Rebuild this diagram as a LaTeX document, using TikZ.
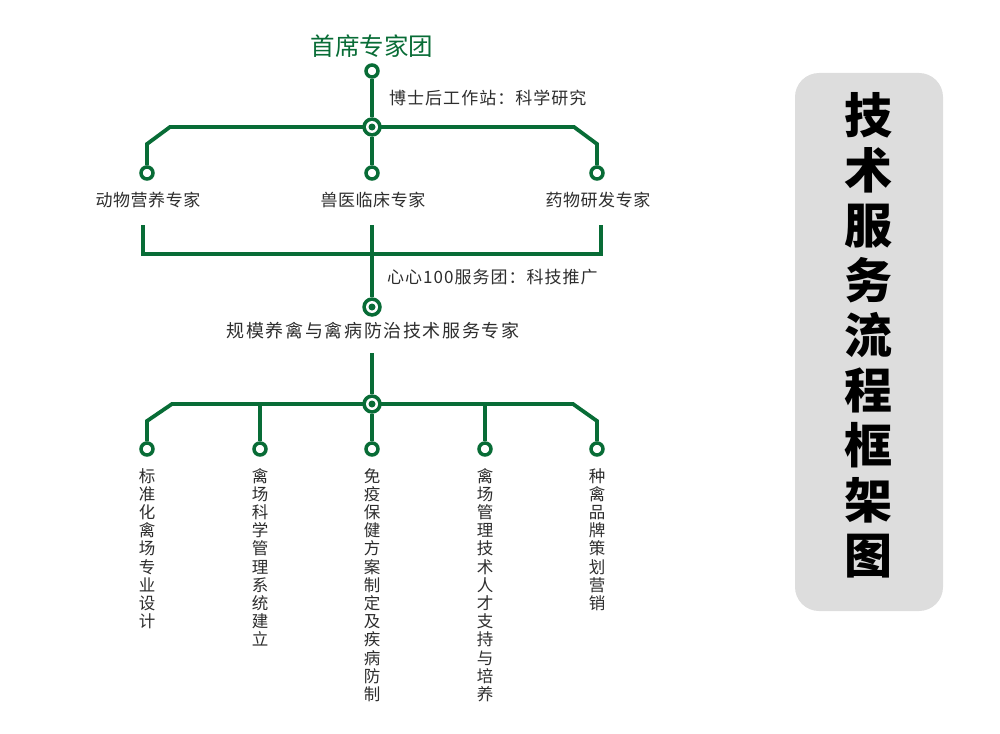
\documentclass[tikz,border=0pt]{standalone}
\usepackage{fontspec}
\newfontfamily\cjk{Noto Sans CJK SC}
\usetikzlibrary{backgrounds}
\definecolor{greenc}{RGB}{8,108,54}
\definecolor{panelgray}{RGB}{221,221,221}
\definecolor{textgray}{RGB}{45,45,45}
\begin{document}
\begin{tikzpicture}[x=1pt,y=-1pt,
  conn/.style={draw=greenc,line width=3.8pt},
  ring/.style={circle,draw=greenc,fill=white,line width=3.5pt,inner sep=0pt,minimum size=12pt},
  hub/.style={circle,fill=greenc,inner sep=0pt,minimum size=19.5pt,
    path picture={\fill[white] (path picture bounding box.center) circle (6pt);
                  \fill[greenc] (path picture bounding box.center) circle (3.5pt);}},
  lab/.style={inner sep=0pt,text=textgray,font=\cjk\fontsize{17}{20}\selectfont\addfontfeature{LetterSpace=3}},
  side/.style={inner sep=0pt,anchor=west,text=textgray,font=\cjk\fontsize{17}{20}\selectfont\addfontfeature{LetterSpace=6}},
  vtext/.style={inner sep=0pt,anchor=north,align=center,text=textgray,font=\cjk\fontsize{16.5}{18.2}\selectfont},
  panel/.style={fill=panelgray,rounded corners=24pt,inner sep=0pt,minimum width=148pt,minimum height=538pt}
]
\useasboundingbox (0,0) rectangle (1000,733);
% side panel
\node[panel] (pnl) at (869,342) {};
\node[inner sep=0pt,align=center,text=black,font=\cjk\bfseries\fontsize{48}{55}\selectfont] (ptitle) at (868,335)
  {技\\术\\服\\务\\流\\程\\框\\架\\图};
% title
\node[inner sep=0pt,text=greenc,font=\cjk\fontsize{24.5}{28}\selectfont\addfontfeature{LetterSpace=0}] (top) at (372,46) {首席专家团};
% nodes
\node[ring] (t) at (372,71) {};
\node[hub] (h1) at (372,127) {};
\node[ring] (a1) at (147,173) {};
\node[ring] (a2) at (372,173) {};
\node[ring] (a3) at (597,173) {};
\coordinate (l1a) at (170,127);
\coordinate (l1b) at (147,144);
\coordinate (r1a) at (574,127);
\coordinate (r1b) at (597,144);
\node[side] (s1) at (389,98) {博士后工作站：科学研究};
\node[lab] (la1) at (148,200) {动物营养专家};
\node[lab] (la2) at (373,200) {兽医临床专家};
\node[lab] (la3) at (598,200) {药物研发专家};
% bracket
\coordinate (b1) at (143,225);
\coordinate (b2) at (143,254);
\coordinate (b3) at (601,254);
\coordinate (b4) at (601,225);
\coordinate (bc) at (372,225);
\node[hub] (h2) at (372,307) {};
\node[side] (s2) at (387,277) {心心100服务团：科技推广};
\node[inner sep=0pt,text=textgray,font=\cjk\fontsize{18}{21}\selectfont\addfontfeature{LetterSpace=9}] (m) at (373,331) {规模养禽与禽病防治技术服务专家};
\coordinate (mc) at (372,353);
\node[hub] (h3) at (372,404) {};
\coordinate (l3a) at (172,404);
\coordinate (l3b) at (147,421);
\coordinate (r3a) at (573,404);
\coordinate (r3b) at (597,421);
\coordinate (j2) at (260,404);
\coordinate (j4) at (485,404);
\node[ring] (c1) at (147,449) {};
\node[ring] (c2) at (260,449) {};
\node[ring] (c3) at (372,449) {};
\node[ring] (c4) at (485,449) {};
\node[ring] (c5) at (597,449) {};
\node[vtext] (v1) at (147,468) {标\\准\\化\\禽\\场\\专\\业\\设\\计};
\node[vtext] (v2) at (260,468) {禽\\场\\科\\学\\管\\理\\系\\统\\建\\立};
\node[vtext] (v3) at (372,468) {免\\疫\\保\\健\\方\\案\\制\\定\\及\\疾\\病\\防\\制};
\node[vtext] (v4) at (485,468) {禽\\场\\管\\理\\技\\术\\人\\才\\支\\持\\与\\培\\养};
\node[vtext] (v5) at (597,468) {种\\禽\\品\\牌\\策\\划\\营\\销};
% connectors
\begin{scope}[on background layer]
\draw[conn] (t) -- (h1);
\draw[conn] (a1) -- (l1b) -- (l1a) -- (r1a) -- (r1b) -- (a3);
\draw[conn] (h1) -- (a2);
\draw[conn] (b1) -- (b2) -- (b3) -- (b4);
\draw[conn] (bc) -- (h2);
\draw[conn] (mc) -- (h3);
\draw[conn] (c1) -- (l3b) -- (l3a) -- (r3a) -- (r3b) -- (c5);
\draw[conn] (h3) -- (c3);
\draw[conn] (j2) -- (c2);
\draw[conn] (j4) -- (c4);
\end{scope}
\end{tikzpicture}
\end{document}
